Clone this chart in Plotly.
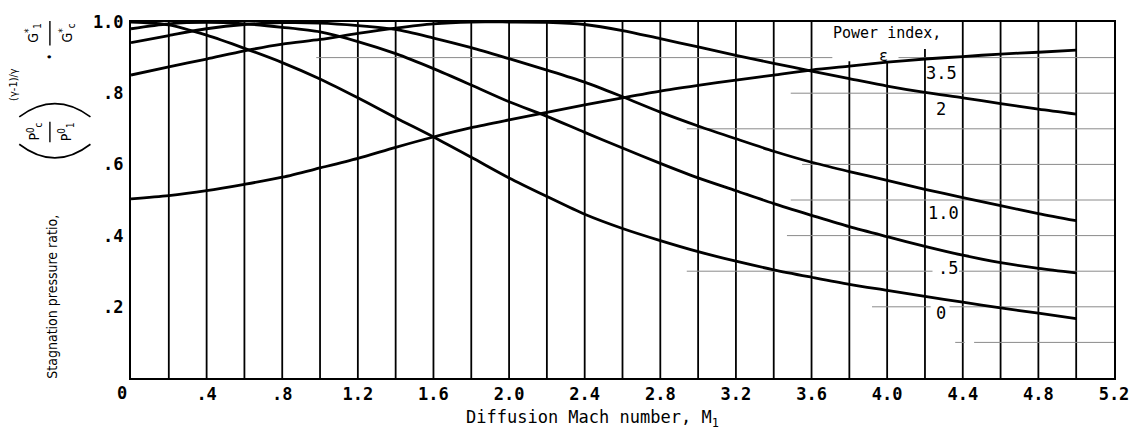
import plotly.graph_objects as go

# Diffusion Mach number grid (abscissa of every curve point)
mach = [0.0, 0.2, 0.4, 0.6, 0.8, 1.0, 1.2, 1.4, 1.6, 1.8, 2.0, 2.2, 2.4,
        2.6, 2.8, 3.0, 3.2, 3.4, 3.6, 3.8, 4.0, 4.2, 4.4, 4.6, 4.8, 5.0]

# Stagnation pressure ratio for each power index
ratio_eps_0 = [1.000, 0.992, 0.963, 0.926, 0.886, 0.840, 0.787, 0.731, 0.677,
               0.620, 0.562, 0.510, 0.460, 0.420, 0.386, 0.355, 0.328, 0.304,
               0.283, 0.263, 0.246, 0.229, 0.213, 0.197, 0.182, 0.167]
ratio_eps_05 = [0.981, 0.995, 0.999, 0.995, 0.985, 0.972, 0.945, 0.911, 0.869,
                0.823, 0.776, 0.735, 0.690, 0.646, 0.603, 0.562, 0.526, 0.490,
                0.457, 0.425, 0.397, 0.370, 0.345, 0.324, 0.308, 0.295]
ratio_eps_1 = [0.942, 0.962, 0.981, 0.993, 0.998, 0.997, 0.990, 0.979, 0.955,
               0.928, 0.897, 0.865, 0.831, 0.790, 0.747, 0.708, 0.672, 0.637,
               0.606, 0.580, 0.555, 0.530, 0.507, 0.484, 0.462, 0.442]
ratio_eps_2 = [0.851, 0.874, 0.896, 0.919, 0.938, 0.951, 0.968, 0.983, 0.995,
               1.000, 1.000, 0.999, 0.993, 0.976, 0.953, 0.930, 0.906, 0.884,
               0.862, 0.841, 0.820, 0.802, 0.787, 0.771, 0.755, 0.741]
ratio_eps_35 = [0.503, 0.512, 0.526, 0.544, 0.564, 0.590, 0.617, 0.648, 0.677,
                0.703, 0.725, 0.746, 0.767, 0.787, 0.806, 0.822, 0.837, 0.851,
                0.865, 0.876, 0.887, 0.896, 0.903, 0.910, 0.915, 0.921]

series = [("0", ratio_eps_0), (".5", ratio_eps_05), ("1.0", ratio_eps_1),
          ("2", ratio_eps_2), ("3.5", ratio_eps_35)]

# curve label text and where it sits (data coordinates)
curve_labels = ["3.5", "2", "1.0", ".5", "0"]
curve_label_x = [4.290, 4.285, 4.300, 4.321, 4.285]
curve_label_y = [0.857, 0.755, 0.464, 0.308, 0.184]

# axis ticks
x_tickvals = [0.4, 0.8, 1.2, 1.6, 2.0, 2.4, 2.8, 3.2, 3.6, 4.0, 4.4, 4.8, 5.2]
x_ticktext = [".4", ".8", "1.2", "1.6", "2.0", "2.4", "2.8", "3.2", "3.6",
              "4.0", "4.4", "4.8", "5.2"]
y_tickvals = [0.2, 0.4, 0.6, 0.8, 1.0]
y_ticktext = [".2", ".4", ".6", ".8", "1.0"]

# vertical rulings every 0.2; a few stop short under the legend heading
vgrid_x = [round(0.2 * i, 1) for i in range(1, 26)]
vgrid_top = {3.8: 0.89, 4.0: 0.89, 4.2: 0.924}

# partial horizontal rulings: (level, start, end)
hgrid_segments = [
    (0.9, 0.98, 3.71), (0.9, 4.06, 5.2),
    (0.8, 3.49, 5.2),
    (0.7, 2.94, 5.2),
    (0.6, 3.55, 5.2),
    (0.5, 3.49, 5.2),
    (0.4, 3.47, 5.2),
    (0.3, 2.94, 4.24), (0.3, 4.38, 5.2),
    (0.2, 3.92, 4.23), (0.2, 4.33, 5.2),
    (0.1, 4.36, 4.41), (0.1, 4.46, 5.2),
]

W, H = 1141, 434
ML, MR, MT, MB = 131, 16, 14, 56
PW, PH = W - ML - MR, H - MT - MB

MONO = "DejaVu Sans Mono, Liberation Mono, monospace"
COND = "DejaVu Sans Condensed, Liberation Sans Narrow, DejaVu Sans, sans-serif"


def paper(px, py):
    """Pixel position on the page -> paper coordinates."""
    return (px - ML) / PW, (MT + PH - py) / PH


fig = go.Figure()

for name, vals in series:
    fig.add_trace(go.Scatter(
        x=mach, y=vals, mode="lines", name=name,
        line=dict(color="black", width=2.8, shape="spline", smoothing=0.8),
        showlegend=False, hoverinfo="skip"))

shapes = []
for xv in vgrid_x:
    shapes.append(dict(type="line", xref="x", yref="y", x0=xv, x1=xv,
                       y0=0, y1=vgrid_top.get(xv, 1.0), layer="below",
                       line=dict(color="black", width=1.8)))
for yv, xa, xb in hgrid_segments:
    shapes.append(dict(type="line", xref="x", yref="y", x0=xa, x1=xb,
                       y0=yv, y1=yv, layer="below",
                       line=dict(color="#8a8a8a", width=1)))


# big parentheses and fraction bars of the ordinate title
def arc(p0, pc, p1):
    a, b, c = paper(*p0), paper(*pc), paper(*p1)
    return dict(type="path", xref="paper", yref="paper",
                path=f"M {a[0]},{a[1]} Q {b[0]},{b[1]} {c[0]},{c[1]}",
                line=dict(color="black", width=1.6))


shapes.append(arc((18, 139), (54, 167), (90, 139)))
shapes.append(arc((18, 111), (54, 84), (90, 111)))
for (px0, py0, px1, py1) in [(49, 116, 49, 137), (49, 13, 49, 38)]:
    a, b = paper(px0, py0), paper(px1, py1)
    shapes.append(dict(type="line", xref="paper", yref="paper",
                       x0=a[0], y0=a[1], x1=b[0], y1=b[1],
                       line=dict(color="black", width=1.4)))

annotations = []
for txt, lx, ly in zip(curve_labels, curve_label_x, curve_label_y):
    annotations.append(dict(x=lx, y=ly, xref="x", yref="y", text=txt,
                            showarrow=False, xanchor="center", yanchor="middle",
                            font=dict(family=MONO, size=17, color="black")))


def page_text(px, py, text, size, family=COND, angle=0, weight="normal"):
    xp, yp = paper(px, py)
    annotations.append(dict(x=xp, y=yp, xref="paper", yref="paper", text=text,
                            showarrow=False, xanchor="center", yanchor="middle",
                            textangle=angle,
                            font=dict(family=family, size=size, color="black",
                                      weight=weight)))


page_text(895, 25.5, "Power index,", 15, family=MONO)
page_text(892, 49, "ε", 15, family=MONO)
page_text(122, 393, "0", 17, family=MONO, weight="bold")
page_text(598, 419, "Diffusion Mach number, M<sub>1</sub>", 17, family=MONO)

# ordinate title
page_text(51, 295, "Stagnation pressure ratio,", 14, angle=-90)
page_text(33, 126, "P<sup>0</sup><sub>c</sub>", 14, angle=-90)
page_text(65, 126, "P<sup>0</sup><sub>1</sub>", 14, angle=-90)
page_text(12, 78, "(γ-1)/γ", 11, angle=-90)
page_text(49, 50, "•", 12, angle=-90)
page_text(32, 25, "G<sup>*</sup><sub>1</sub>", 14, angle=-90)
page_text(66, 25, "G<sup>*</sup><sub>c</sub>", 14, angle=-90)

fig.update_layout(
    width=W, height=H,
    margin=dict(l=ML, r=MR, t=MT, b=MB, pad=0),
    paper_bgcolor="white", plot_bgcolor="white",
    shapes=shapes, annotations=annotations,
    xaxis=dict(range=[0, 5.2], tickvals=x_tickvals, ticktext=x_ticktext,
               showgrid=False, zeroline=False, ticks="",
               showline=True, mirror=True, linecolor="black", linewidth=2,
               tickfont=dict(family=MONO, size=17, color="black", weight="bold"),
               ticklabelstandoff=0),
    yaxis=dict(range=[0, 1.0], tickvals=y_tickvals, ticktext=y_ticktext,
               showgrid=False, zeroline=False, ticks="",
               showline=True, mirror=True, linecolor="black", linewidth=2,
               tickfont=dict(family=MONO, size=17, color="black", weight="bold"),
               ticklabelstandoff=2),
)

fig.write_html("out.html")
